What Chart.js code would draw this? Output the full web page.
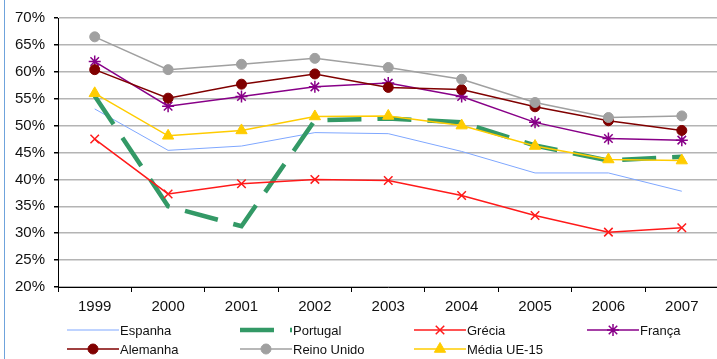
<!DOCTYPE html>
<html>
<head>
<meta charset="utf-8">
<script src="https://cdn.jsdelivr.net/npm/chart.js@4/dist/chart.umd.min.js"></script>
<style>
  html, body { margin: 0; padding: 0; background: #fff; overflow: hidden; }
  #wrap { position: relative; width: 717px; height: 359px; overflow: hidden; }
  #edge { position: absolute; left: 4px; top: 0; width: 1px; height: 359px; background: #6fa3dc; }
  canvas { position: absolute; left: 0; top: 0; }
</style>
</head>
<body>
<div id="wrap">
  <canvas id="chart" width="726" height="359"></canvas>
  <div id="edge"></div>
</div>
<script>
const years = ['1999', '2000', '2001', '2002', '2003', '2004', '2005', '2006', '2007']
const espanha = [53.1, 45.4, 46.2, 48.7, 48.5, 45.2, 41.2, 41.2, 37.8]
const portugal = [55.5, 35.0, 31.3, 51.0, 51.3, 50.6, 46.3, 43.5, 44.2]
const grecia = [47.5, 37.3, 39.2, 40.0, 39.8, 37.0, 33.3, 30.2, 31.0]
const franca = [61.9, 53.6, 55.4, 57.2, 57.9, 55.4, 50.6, 47.6, 47.3]
const alemanha = [60.4, 55.1, 57.7, 59.6, 57.1, 56.7, 53.5, 50.9, 49.1]
const reinoUnido = [66.5, 60.4, 61.4, 62.5, 60.8, 58.6, 54.3, 51.5, 51.8]
const mediaUE15 = [56.0, 48.1, 49.1, 51.7, 51.8, 50.0, 46.2, 43.7, 43.5]
const yTicks = [20, 25, 30, 35, 40, 45, 50, 55, 60, 65, 70]

const FONT = '"Liberation Sans", Arial, sans-serif'

function series(label, data, color, extra) {
  return Object.assign({
    label: label,
    data: data,
    borderColor: color,
    backgroundColor: color,
    borderWidth: 1.5,
    pointRadius: 0,
    pointHoverRadius: 0,
    tension: 0,
    fill: false
  }, extra)
}

const datasets = [
  series('Espanha', espanha, '#7fa7ff', { borderWidth: 1 }),
  series('Portugal', portugal, '#339966', { borderWidth: 4.5, borderDash: [34, 16], borderCapStyle: 'butt' }),
  series('Grécia', grecia, '#ff1a1a', { pointStyle: 'crossRot', pointRadius: 6, pointBorderWidth: 1.5 }),
  series('França', franca, '#880088', { pointStyle: 'star', pointRadius: 6, pointBorderWidth: 1.5 }),
  series('Alemanha', alemanha, '#800000', { pointStyle: 'circle', pointRadius: 5, pointBorderWidth: 1 }),
  series('Reino Unido', reinoUnido, '#a0a0a0', { pointStyle: 'circle', pointRadius: 5, pointBorderWidth: 1 }),
  series('Média UE-15', mediaUE15, '#ffcc00', { pointStyle: 'triangle', pointRadius: 6.5, pointBorderWidth: 1 })
]
// later series sit on top, like the original
datasets.forEach((d, i) => { d.order = datasets.length - i })

// grid legend: 4 columns, 2 rows
const gridLegend = {
  id: 'gridLegend',
  afterDraw(chart) {
    const ctx = chart.ctx
    const colX = [67, 240, 414, 587]
    const rowY = [330, 349]
    ctx.save()
    datasets.forEach((d, i) => {
      const x = colX[i % 4]
      const y = rowY[Math.floor(i / 4)]
      ctx.strokeStyle = d.borderColor
      ctx.lineWidth = d.borderWidth
      ctx.setLineDash(d.borderDash || [])
      ctx.lineCap = 'butt'
      ctx.beginPath()
      ctx.moveTo(x, y)
      ctx.lineTo(x + 52, y)
      ctx.stroke()
      ctx.setLineDash([])
      if (d.pointStyle) {
        ctx.fillStyle = d.backgroundColor
        ctx.strokeStyle = d.borderColor
        ctx.lineWidth = d.pointBorderWidth
        Chart.helpers.drawPoint(ctx, {
          pointStyle: d.pointStyle,
          radius: d.pointRadius,
          borderWidth: d.pointBorderWidth,
          rotation: 0
        }, x + 26, y)
      }
      ctx.fillStyle = '#111'
      ctx.font = '13px ' + FONT
      ctx.textAlign = 'left'
      ctx.textBaseline = 'middle'
      ctx.fillText(d.label, x + 53, y + 1)
    })
    ctx.restore()
  }
}

new Chart(document.getElementById('chart').getContext('2d'), {
  type: 'line',
  data: { labels: years, datasets: datasets },
  options: {
    responsive: false,
    animation: false,
    events: [],
    layout: { padding: { left: 6, right: 2, top: 7, bottom: 37 } },
    plugins: {
      legend: { display: false },
      tooltip: { enabled: false },
      gridLegend: {}
    },
    scales: {
      x: {
        offset: true,
        grid: {
          offset: true,
          drawOnChartArea: false,
          drawTicks: true,
          tickLength: 5,
          color: '#000'
        },
        border: { color: '#000', width: 1 },
        ticks: {
          color: '#111',
          padding: 6,
          font: { family: FONT, size: 15 },
          maxRotation: 0
        }
      },
      y: {
        min: 20,
        max: 70,
        afterBuildTicks(scale) {
          scale.ticks = yTicks.map((v) => ({ value: v }))
        },
        grid: {
          color: '#b4b4b4',
          lineWidth: 1.5,
          tickLength: 4,
          tickColor: '#000'
        },
        border: { color: '#000', width: 1 },
        ticks: {
          color: '#111',
          padding: 9,
          font: { family: FONT, size: 15 },
          callback: (v) => v + '%'
        }
      }
    }
  },
  plugins: [gridLegend]
})
</script>
</body>
</html>
